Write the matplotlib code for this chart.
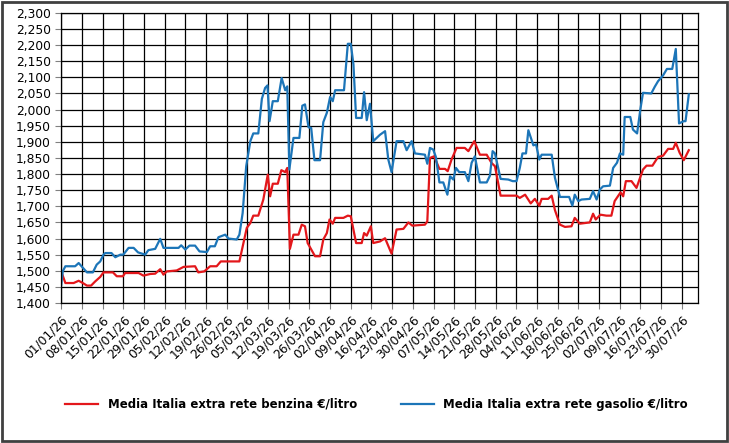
import datetime as dt

import matplotlib
matplotlib.use("Agg")
import matplotlib.pyplot as plt
from matplotlib.patches import Rectangle
from matplotlib.ticker import FuncFormatter

# day offsets from 01/01/26 and prices (EUR/litre)
benzina_days = [0, 1.4, 4.2, 5.9, 7.3, 8.7, 10.1, 11.5, 13.2, 14.3, 17.5, 18.8, 20.9, 21.6, 26.2, 27.8,
                30.1, 31.8, 33.5, 34.6, 35.7, 39.1, 41.4, 45.3, 46.4, 48.4, 50.4, 52.6, 54, 57.2, 60.3,
                62.8, 64, 65, 66.7, 68.4, 69.9, 70.7, 71.6, 73.3, 74.5, 75.8, 76.5, 77.4, 78.6, 80.3,
                81.4, 82.5, 83.4, 85.9, 87.6, 88.7, 89.9, 90.8, 91.9, 92.7, 95.5, 97, 98, 99.8, 101.7,
                102.5, 103.4, 104.8, 105.6, 107.9, 109.6, 111.8, 113.5, 115.8, 117.5, 118.8, 123.1,
                123.9, 124.8, 126.2, 128, 129.9, 130.8, 132.1, 133.8, 136.6, 137.8, 139.8, 141.7, 144,
                145.6, 146.8, 148.7, 154.1, 155.2, 157, 158.9, 160.3, 161.8, 162.6, 164.8, 166, 167.1,
                168.8, 170.5, 172.7, 173.8, 175.5, 178.9, 180, 180.9, 182.5, 184.5, 186.2, 187.3, 189.3,
                190.2, 191.1, 193, 194.7, 196.9, 198.1, 200.1, 202, 203.7, 205.4, 207.1, 208, 209.3,
                210.7, 212.4]
benzina = [1.498, 1.462, 1.462, 1.469, 1.462, 1.454, 1.454, 1.467, 1.481, 1.495, 1.495, 1.483, 1.483,
           1.493, 1.493, 1.485, 1.490, 1.491, 1.505, 1.488, 1.498, 1.501, 1.512, 1.514, 1.495, 1.498,
           1.514, 1.514, 1.529, 1.529, 1.529, 1.633, 1.648, 1.671, 1.671, 1.721, 1.798, 1.731, 1.770,
           1.770, 1.812, 1.806, 1.819, 1.568, 1.612, 1.612, 1.643, 1.638, 1.586, 1.545, 1.545, 1.597,
           1.617, 1.659, 1.646, 1.664, 1.664, 1.671, 1.669, 1.586, 1.586, 1.617, 1.609, 1.638, 1.586,
           1.591, 1.601, 1.553, 1.628, 1.630, 1.650, 1.640, 1.643, 1.653, 1.850, 1.855, 1.816, 1.816,
           1.809, 1.845, 1.881, 1.881, 1.871, 1.902, 1.860, 1.860, 1.835, 1.824, 1.733, 1.733, 1.726,
           1.736, 1.709, 1.723, 1.702, 1.723, 1.723, 1.733, 1.688, 1.643, 1.636, 1.638, 1.664, 1.646,
           1.650, 1.677, 1.659, 1.674, 1.671, 1.671, 1.716, 1.743, 1.731, 1.778, 1.778, 1.757, 1.814,
           1.826, 1.826, 1.853, 1.857, 1.878, 1.878, 1.897, 1.866, 1.843, 1.874]

gasolio_days = [0, 0.5, 1.4, 4.7, 5.9, 8.7, 10.7, 12, 13.2, 14.3, 14.9, 17, 18.3, 20, 21, 22.8, 24.5,
                26, 28.4, 29.5, 31.8, 33.5, 34.6, 39.7, 40.6, 42, 43.4, 45.3, 46.8, 49.3, 50.4, 52,
                53.2, 55.5, 56.6, 59.4, 60.3, 61.4, 62.6, 64, 65, 66.7, 67.9, 69, 69.8, 70.5, 71.6,
                73.3, 74.6, 75.8, 76.5, 77.2, 78.6, 80.6, 81.6, 82.5, 83.7, 84.6, 85.7, 87.6, 88.7,
                89.9, 91, 91.9, 92.7, 95.7, 97, 98, 98.9, 99.8, 101.7, 102.5, 103.4, 104.5, 105.6,
                107.9, 109.6, 110.7, 111.8, 113.5, 115.8, 116.9, 118.6, 119.7, 123.1, 123.9, 124.8,
                125.9, 126.8, 128, 129.3, 130.7, 131.6, 132.7, 133.6, 134.7, 136.6, 137.8, 138.9, 140,
                141.7, 144, 145.1, 146, 146.8, 148.7, 151.3, 152.8, 154.1, 155.2, 156.1, 157.3, 158.1,
                159.8, 160.7, 161.8, 162.6, 166, 167.1, 168.8, 171.9, 173, 173.8, 175, 176.1, 178.9,
                180, 181.2, 182.3, 183.4, 185.7, 186.8, 188.1, 189.1, 190.2, 190.7, 192.6, 193.5,
                194.9, 196, 196.9, 199.7, 200.9, 202, 203.7, 205, 206.8, 208, 209.1, 210.7, 211.3,
                212.4]
gasolio = [1.457, 1.498, 1.514, 1.514, 1.524, 1.495, 1.495, 1.519, 1.529, 1.550, 1.555, 1.555, 1.542,
           1.550, 1.550, 1.571, 1.571, 1.557, 1.550, 1.564, 1.568, 1.599, 1.571, 1.571, 1.579, 1.566,
           1.578, 1.578, 1.560, 1.558, 1.576, 1.576, 1.604, 1.612, 1.600, 1.597, 1.612, 1.679, 1.824,
           1.902, 1.926, 1.926, 2.033, 2.067, 2.075, 1.964, 2.026, 2.026, 2.098, 2.060, 2.072, 1.814,
           1.912, 1.912, 2.012, 2.016, 1.945, 1.943, 1.843, 1.843, 1.961, 1.990, 2.039, 2.026, 2.060,
           2.060, 2.204, 2.204, 2.140, 1.974, 1.974, 2.054, 1.967, 2.018, 1.902, 1.922, 1.933, 1.845,
           1.806, 1.902, 1.902, 1.874, 1.902, 1.864, 1.860, 1.832, 1.881, 1.876, 1.853, 1.774, 1.774,
           1.736, 1.793, 1.783, 1.819, 1.806, 1.806, 1.778, 1.835, 1.855, 1.774, 1.774, 1.795, 1.871,
           1.864, 1.785, 1.783, 1.778, 1.778, 1.819, 1.864, 1.864, 1.936, 1.889, 1.892, 1.845, 1.860,
           1.860, 1.788, 1.729, 1.729, 1.702, 1.736, 1.716, 1.721, 1.723, 1.747, 1.721, 1.752, 1.762,
           1.764, 1.819, 1.835, 1.864, 1.860, 1.977, 1.977, 1.938, 1.926, 2.000, 2.052, 2.050, 2.071,
           2.088, 2.106, 2.126, 2.126, 2.188, 1.957, 1.964, 1.964, 2.047]

start = dt.date(2026, 1, 1)
tick_days = list(range(0, 211, 7))
tick_labels = [(start + dt.timedelta(days=d)).strftime("%d/%m/%y") for d in tick_days]

fig = plt.figure(figsize=(7.29, 4.43), dpi=100)
ax = fig.add_axes([0.084, 0.316, 0.873, 0.655])

l1, = ax.plot(benzina_days, benzina, color="#e3171b", lw=1.6)
l2, = ax.plot(gasolio_days, gasolio, color="#1c75b8", lw=1.6)

ax.set_xlim(0, 215.4)
ax.set_ylim(1.4, 2.3)
ax.set_yticks([1.4 + 0.05 * i for i in range(19)])
ax.yaxis.set_major_formatter(FuncFormatter(lambda v, p: f"{v:.3f}".replace(".", ",")))
ax.set_xticks(tick_days)
ax.set_xticklabels(tick_labels, rotation=45, ha="right", rotation_mode="anchor")
ax.tick_params(labelsize=8.8, length=4, color="#808080")
ax.grid(True, color="black", lw=0.9)
for s in ax.spines.values():
    s.set_color("black")
    s.set_linewidth(0.9)

leg_font = {"weight": "bold", "size": 8.5}
fig.legend([l1], ["Media Italia extra rete benzina €/litro"], loc="center left",
           bbox_to_anchor=(0.075, 0.087), frameon=False, prop=leg_font, handlelength=2.8)
fig.legend([l2], ["Media Italia extra rete gasolio €/litro"], loc="center left",
           bbox_to_anchor=(0.535, 0.087), frameon=False, prop=leg_font, handlelength=2.8)

fig.patches.append(Rectangle((0.003, 0.005), 0.994, 0.99, transform=fig.transFigure,
                             fill=False, ec="#404040", lw=2))

fig.savefig("out.png", dpi=100)
